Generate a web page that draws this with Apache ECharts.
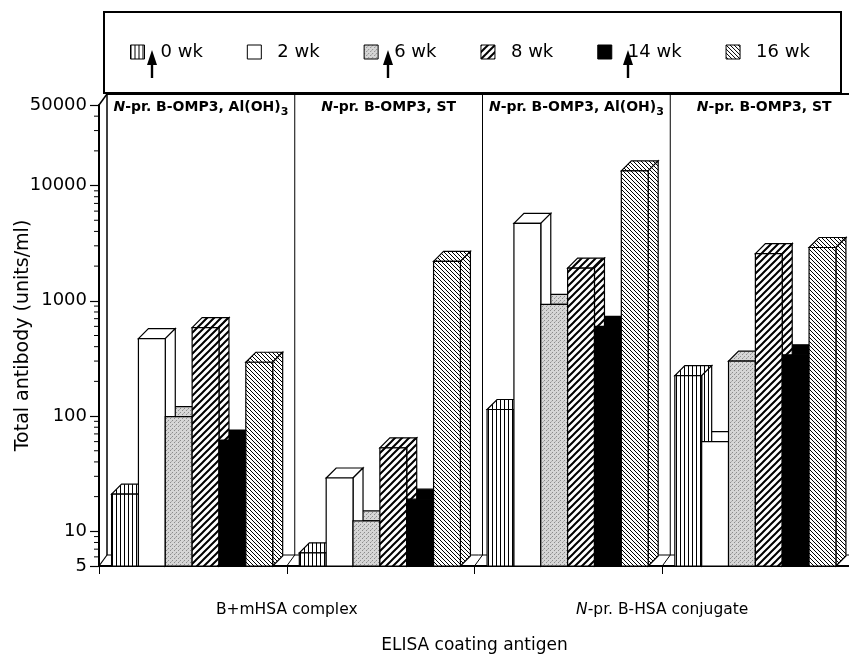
<!DOCTYPE html>
<html>
<head>
<meta charset="utf-8">
<script src="https://cdn.jsdelivr.net/npm/echarts@6/dist/echarts.min.js"></script>
<style>html,body{margin:0;padding:0;background:#fff}#c{width:849px;height:664px}</style>
</head>
<body>
<div id="c"></div>
<script>
// ---------- data ----------
const categories = ['B+mHSA, Al(OH)3', 'B+mHSA, ST', 'N-pr. B-HSA, Al(OH)3', 'N-pr. B-HSA, ST'];
const panelLabels = [
  '{i|N}{b|-pr. B-OMP3, Al(OH)}{s|3}',
  '{i|N}{b|-pr. B-OMP3, ST}',
  '{i|N}{b|-pr. B-OMP3, Al(OH)}{s|3}',
  '{i|N}{b|-pr. B-OMP3, ST}'
];
const groupLabels = ['B+mHSA complex', '{i|N}-pr. B-HSA conjugate'];
const seriesNames = ['0 wk', '2 wk', '6 wk', '8 wk', '14 wk', '16 wk'];
const wk0  = [21, 6.5, 114, 224];
const wk2  = [470, 29, 4700, 60];
const wk6  = [99, 12.3, 930, 300];
const wk8  = [585, 53, 1920, 2570];
const wk14 = [62, 19, 600, 340];
const wk16 = [293, 2200, 13400, 2900];
const allValues = [wk0, wk2, wk6, wk8, wk14, wk16];
const yMin = 5, yMax = 50000;
const minorTickValues = [6, 7, 8, 9, 20, 30, 40, 50, 60, 70, 80, 90,
  200, 300, 400, 500, 600, 700, 800, 900,
  2000, 3000, 4000, 5000, 6000, 7000, 8000, 9000,
  20000, 30000, 40000];
const arrowWeeks = ['0 wk', '6 wk', '14 wk'];
const arrowX = [152, 388, 628];

// ---------- patterns ----------
function makePattern(w, h, draw) {
  const c = document.createElement('canvas');
  c.width = w; c.height = h;
  const g = c.getContext('2d');
  g.fillStyle = '#fff'; g.fillRect(0, 0, w, h);
  draw(g, w, h);
  return { image: c, repeat: 'repeat' };
}
const fills = [
  makePattern(4, 4, g => { g.fillStyle = '#000'; g.fillRect(0, 0, 1, 4); }),
  '#ffffff',
  makePattern(4, 4, g => {
    g.fillStyle = '#d6d6d6'; g.fillRect(0, 0, 4, 4);
    g.fillStyle = '#8c8c8c'; g.fillRect(0, 0, 1, 1); g.fillRect(2, 2, 1, 1);
    g.fillStyle = '#b0b0b0'; g.fillRect(3, 1, 1, 1);
  }),
  makePattern(7, 7, g => {
    g.strokeStyle = '#000'; g.lineWidth = 2; g.beginPath();
    g.moveTo(-1, 8); g.lineTo(8, -1);
    g.moveTo(-1, 1); g.lineTo(1, -1);
    g.moveTo(6, 8); g.lineTo(8, 6);
    g.stroke();
  }),
  '#000000',
  makePattern(4, 4, g => {
    g.strokeStyle = '#000'; g.lineWidth = 1; g.beginPath();
    g.moveTo(-1, -1); g.lineTo(5, 5);
    g.moveTo(3, -1); g.lineTo(5, 1);
    g.moveTo(-1, 3); g.lineTo(1, 5);
    g.stroke();
  })
];

const FONT = 'DejaVu Sans';
const BDX = 10, BDY = 10;   // bar depth
const WDX = 8, WDY = 11;    // wall depth

function barRenderer(k) {
  return function (params, api) {
    const ci = api.value(0), v = api.value(1);
    const top = api.coord([ci, v]);
    const base = api.coord([ci, yMin]);
    const cw = api.size([1, 0])[0];
    const w = cw * 0.143;
    const x = top[0] - cw / 2 + cw * 0.067 + k * w;
    const yT = top[1], yB = base[1];
    const st = { fill: fills[k], stroke: '#000', lineWidth: 1.2 };
    const children = [
      { type: 'polygon', z2: 1, shape: { points: [[x, yT], [x + BDX, yT - BDY], [x + w + BDX, yT - BDY], [x + w, yT]] }, style: st }
    ];
    const nextArr = allValues[k + 1];
    if (!nextArr || nextArr[ci] < v) {
      children.push({ type: 'polygon', z2: 2, shape: { points: [[x + w, yT], [x + w + BDX, yT - BDY], [x + w + BDX, yB - BDY], [x + w, yB]] }, style: st });
    }
    children.push({ type: 'rect', z2: 3, shape: { x: x, y: yT, width: w, height: yB - yT }, style: st });
    return { type: 'group', children: children };
  };
}

const barSeries = seriesNames.map((name, k) => ({
  name: name,
  type: 'custom',
  z: 3,
  itemStyle: { color: fills[k] },
  renderItem: barRenderer(k),
  encode: { x: 0, y: 1 },
  data: allValues[k].map((v, i) => [i, v])
}));

const wallSeries = {
  name: 'walls', type: 'custom', z: 1, silent: true,
  encode: { x: 0, y: 1 },
  data: [[0, yMin]],
  renderItem: function (params, api) {
    const cs = params.coordSys;
    const L = cs.x, T = cs.y, R = cs.x + cs.width, B = cs.y + cs.height;
    const cw = api.size([1, 0])[0];
    const ln = (x1, y1, x2, y2, lw) => ({ type: 'line', shape: { x1, y1, x2, y2 }, style: { stroke: '#000', lineWidth: lw || 1 } });
    const ch = [];
    ch.push(ln(L + WDX, T - WDY, L + WDX, B - WDY, 1.5));
    ch.push(ln(L, T, L + WDX, T - WDY, 1.5));
    ch.push(ln(L, B, L + WDX, B - WDY, 1.2));
    ch.push(ln(L + WDX, B - WDY, R + WDX, B - WDY, 1));
    ch.push(ln(L + WDX, T - WDY, R + WDX, T - WDY, 2));
    for (let i = 1; i < categories.length; i++) {
      const bx = L + i * cw;
      ch.push(ln(bx + WDX, T - WDY, bx + WDX, B - WDY, 1));
      ch.push(ln(bx, B, bx + WDX, B - WDY, 1));
    }
    return { type: 'group', children: ch };
  }
};

const minorTickSeries = {
  name: 'minorTicks', type: 'custom', z: 3, silent: true,
  encode: { x: 0, y: 1 },
  data: minorTickValues.map(v => [0, v]),
  renderItem: function (params, api) {
    const p = api.coord([0, api.value(1)]);
    const x0 = params.coordSys.x;
    return { type: 'line', shape: { x1: x0 - 5, y1: p[1], x2: x0, y2: p[1] }, style: { stroke: '#000', lineWidth: 1 } };
  }
};

const panelSeries = {
  name: 'panels', type: 'custom', z: 5, silent: true,
  encode: { x: 0, y: 1 },
  data: categories.map((c, i) => [i, yMax]),
  renderItem: function (params, api) {
    const ci = api.value(0);
    const p = api.coord([ci, yMax]);
    return {
      type: 'text',
      style: {
        x: p[0] + WDX, y: p[1] + 2,
        text: panelLabels[ci],
        align: 'center', verticalAlign: 'middle',
        fill: '#000',
        font: 'bold 14px "' + FONT + '"',
        rich: {
          i: { fontStyle: 'italic', fontWeight: 'bold', fontSize: 14, fontFamily: FONT, fill: '#000' },
          b: { fontWeight: 'bold', fontSize: 14, fontFamily: FONT, fill: '#000' },
          s: { fontWeight: 'bold', fontSize: 11, fontFamily: FONT, fill: '#000', padding: [11, 0, 0, 0] }
        }
      }
    };
  }
};

const graphics = [
  { type: 'rect', shape: { x: 104, y: 12, width: 737, height: 81 }, style: { fill: 'none', stroke: '#000', lineWidth: 2 }, z: 10 }
];
arrowX.forEach(ax => {
  graphics.push({ type: 'rect', shape: { x: ax - 1.2, y: 62, width: 2.4, height: 16 }, style: { fill: '#000' }, z: 11 });
  graphics.push({ type: 'polygon', shape: { points: [[ax - 5, 65], [ax, 50], [ax + 5, 65]] }, style: { fill: '#000' }, z: 11 });
});

const chart = echarts.init(document.getElementById('c'), null, { renderer: 'canvas' });
chart.setOption({
  animation: false,
  backgroundColor: '#fff',
  textStyle: { fontFamily: FONT, color: '#000' },
  grid: { left: 99, top: 105, width: 751, height: 461, containLabel: false, outerBoundsMode: 'none' },
  legend: {
    data: seriesNames.map((n, i) => ({ name: n, itemStyle: { color: fills[i], borderColor: '#000', borderWidth: 1 } })),
    icon: 'rect',
    left: 130, top: 43, padding: 0,
    itemWidth: 14, itemHeight: 14, itemGap: 44,
    selectedMode: false,
    textStyle: { fontFamily: FONT, fontSize: 18, color: '#000', padding: [0, 0, 0, 11] }
  },
  xAxis: [
    {
      type: 'category', data: categories, position: 'bottom',
      axisLine: { show: true, lineStyle: { color: '#000', width: 2 } },
      axisTick: { show: true, length: 8, lineStyle: { color: '#000', width: 1 } },
      axisLabel: { show: false },
      name: 'ELISA coating antigen', nameLocation: 'middle', nameGap: 71, nameMoveOverlap: false,
      nameTextStyle: { fontFamily: FONT, fontSize: 17, color: '#000' },
      splitLine: { show: false }
    },
    {
      type: 'category', data: groupLabels, position: 'bottom',
      axisLine: { show: false }, axisTick: { show: false },
      axisLabel: {
        show: true, margin: 36, fontFamily: FONT, fontSize: 15.5, color: '#000',
        rich: { i: { fontStyle: 'italic', fontFamily: FONT, fontSize: 15.5, color: '#000' } }
      },
      splitLine: { show: false }
    }
  ],
  yAxis: {
    type: 'log', logBase: 10, min: yMin, max: yMax,
    axisLine: { show: true, lineStyle: { color: '#000', width: 2 } },
    axisTick: { show: true, length: 9, lineStyle: { color: '#000', width: 1.2 } },
    axisLabel: { margin: 12, fontFamily: FONT, fontSize: 18, color: '#000', formatter: v => String(Math.round(v)) },
    splitLine: { show: false },
    name: 'Total antibody (units/ml)', nameLocation: 'middle', nameGap: 66, nameMoveOverlap: false,
    nameTextStyle: { fontFamily: FONT, fontSize: 19, color: '#000' }
  },
  series: [wallSeries, minorTickSeries].concat(barSeries).concat([panelSeries]),
  graphic: graphics
});
</script>
</body>
</html>
